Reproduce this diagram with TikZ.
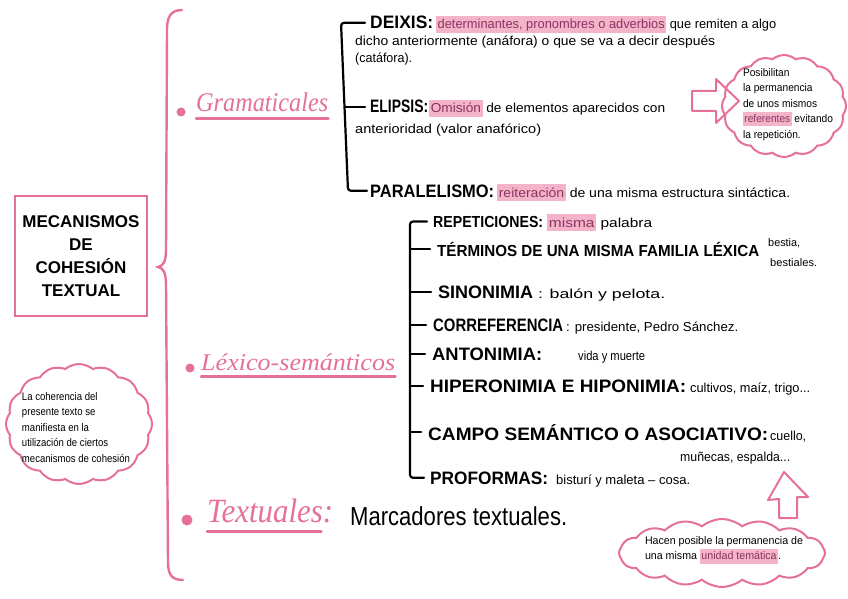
\documentclass[tikz,border=0pt]{standalone}
\usepackage{fontspec}
\setmainfont{Liberation Sans}
\newfontfamily\catfont{Liberation Serif}
\usepackage{graphicx}
\usetikzlibrary{shapes.symbols}
\definecolor{pk}{HTML}{E5719B}
\definecolor{hlpink}{HTML}{F3B3C9}
\definecolor{hltext}{HTML}{8A3560}
\newcommand{\fitw}[2]{\resizebox{#1pt}{\height}{#2}}
\newcommand{\hl}[1]{{\setlength{\fboxsep}{1.5pt}\colorbox{hlpink}{\vphantom{Ág}\textcolor{hltext}{#1}}}}
\tikzset{
  lab/.style={anchor=base west, inner sep=0pt, font=\fontsize{18}{20}\selectfont\bfseries},
  desc/.style={anchor=base west, inner sep=0pt, font=\fontsize{13}{15}\selectfont},
  smalltxt/.style={anchor=base west, inner sep=0pt, font=\fontsize{11}{12}\selectfont},
  br/.style={line width=2.2pt, black, rounded corners=3pt, line cap=round},
  pinkline/.style={draw=pk, line width=2.4pt, line cap=round},
  cat/.style={anchor=base west, inner sep=0pt, text=pk, font=\catfont\itshape},
  dot/.style={circle, fill=pk, inner sep=0pt, minimum size=9pt},
  cloudbox/.style={cloud, cloud puffs=16, cloud puff arc=80, cloud ignores aspect, draw=pk, line width=2pt, inner sep=0pt},
  cloudtxt/.style={align=left, inner sep=0pt, font=\fontsize{11}{15.5}\selectfont},
  titlebox/.style={draw=pk, line width=2.4pt, minimum width=132pt, minimum height=120pt, align=center, font=\fontsize{17}{23}\selectfont\bfseries}
}
\begin{document}
\begin{tikzpicture}[x=1pt,y=-1pt]
\useasboundingbox[fill=white] (0,0) rectangle (848,599);

% title box and main brace
\node[titlebox] (title) at (81,256) {MECANISMOS\\DE\\COHESIÓN\\TEXTUAL};
\draw[pinkline] (182,10) .. controls (170,10) and (167,18) .. (167,30) -- (166,250)
  .. controls (166,262) and (163,266) .. (158,267)
  .. controls (163,268) and (166,272) .. (166,285) -- (168,562)
  .. controls (168,575) and (172,580) .. (183,580);

% left cloud
\node[cloudbox, minimum width=146pt, minimum height=120pt] (cloudL) at (79,424) {};
\node[cloudtxt] (cloudLt) at (76,428) {\fitw{108}{\begin{tabular}{@{}l@{}}La coherencia del\\presente texto se\\manifiesta en la\\utilización de ciertos\\mecanismos de cohesión\end{tabular}}};

% categories
\node[dot] (b1) at (181,112) {};
\node[cat] (gram) at (196,112) {\fitw{132}{\fontsize{27}{28}\selectfont Gramaticales}};
\draw[pinkline] ([yshift=-6pt]gram.south west) -- ([yshift=-6pt]gram.south east);
\node[dot] (b2) at (190,368) {};
\node[cat] (lex) at (201,370) {\fitw{194}{\fontsize{24}{26}\selectfont Léxico-semánticos}};
\draw[pinkline] ([yshift=-6pt]lex.south west) -- ([yshift=-6pt]lex.south east);
\node[dot, minimum size=11pt] (b3) at (187,520) {};
\node[cat] (text) at (207,522) {\fitw{126}{\fontsize{34}{36}\selectfont Textuales:}};
\draw[pinkline] ([yshift=-9pt]text.south west) -- ([yshift=-9pt,xshift=-12pt]text.south east);
\node[anchor=base west, inner sep=0pt] (marc) at (350,525) {\fitw{217}{\fontsize{26}{28}\selectfont Marcadores textuales.}};

% gramaticales items
\node[lab] (deixis) at (370,29) {\fitw{63}{DEIXIS:}};
\node[desc] (deixis1) at (436,29) {\fitw{340}{\hl{determinantes, pronombres o adverbios} que remiten a algo}};
\node[desc] (deixis2) at (355,46) {\fitw{360}{dicho anteriormente (anáfora) o que se va a decir después}};
\node[desc] (deixis3) at (355,63) {\fitw{57}{(catáfora).}};
\node[lab] (elipsis) at (370,113) {\fitw{58}{ELIPSIS:}};
\node[desc] (elipsis1) at (429,113) {\fitw{236}{\hl{Omisión} de elementos aparecidos con}};
\node[desc] (elipsis2) at (355,134) {\fitw{186}{anterioridad (valor anafórico)}};
\node[lab] (paral) at (370,197) {\fitw{124}{PARALELISMO:}};
\node[desc] (paral1) at (497,197) {\fitw{293}{\hl{reiteración} de una misma estructura sintáctica.}};

\coordinate (gt) at (341,0);
\coordinate (gm) at (345,0);
\coordinate (gb) at (348,0);
\draw[br] ([xshift=-5pt]deixis.west) -- (deixis.west -| gt) -- (paral.west -| gb) -- ([xshift=-3pt]paral.west);
\draw[br] (elipsis.west -| gm) -- ([xshift=-5pt]elipsis.west);

% right cloud + arrow
\draw[pinkline, line width=2pt, line join=round] (692,91) -- (716,91) -- (716,79) -- (739,101) -- (716,123) -- (716,111) -- (692,111) -- cycle;
\node[cloudbox, minimum width=124pt, minimum height=102pt] (cloudR) at (784,106) {};
\node[cloudtxt] (cloudRt) at (788,104) {\fitw{90}{\begin{tabular}{@{}l@{}}Posibilitan\\la permanencia\\de unos mismos\\\hl{referentes} evitando\\la repetición.\end{tabular}}};

% lexico items
\node[lab, font=\fontsize{16}{18}\selectfont\bfseries] (rep) at (433,227) {\fitw{110}{REPETICIONES:}};
\node[desc] (rep1) at (547,227) {\fitw{105}{\hl{misma} palabra}};
\node[lab, font=\fontsize{16}{18}\selectfont\bfseries] (term) at (437,256) {\fitw{322}{TÉRMINOS DE UNA MISMA FAMILIA LÉXICA}};
\node[smalltxt] (term1) at (768,246) {\fitw{32}{bestia,}};
\node[smalltxt] (term2) at (770,266) {\fitw{47}{bestiales.}};
\node[lab] (sin) at (438,298) {\fitw{95}{SINONIMIA}};
\node[desc] (sin1) at (538,298) {\fitw{127}{: balón y pelota.}};
\node[lab] (coref) at (433,331) {\fitw{130}{CORREFERENCIA}};
\node[desc] (coref1) at (566,331) {\fitw{172}{: presidente, Pedro Sánchez.}};
\node[lab] (anto) at (432,360) {\fitw{110}{ANTONIMIA:}};
\node[desc] (anto1) at (578,360) {\fitw{67}{vida y muerte}};
\node[lab] (hiper) at (430,392) {\fitw{256}{HIPERONIMIA E HIPONIMIA:}};
\node[desc] (hiper1) at (690,392) {\fitw{120}{cultivos, maíz, trigo...}};
\node[lab] (campo) at (428,440) {\fitw{340}{CAMPO SEMÁNTICO O ASOCIATIVO:}};
\node[desc] (campo1) at (770,440) {\fitw{36}{cuello,}};
\node[desc] (campo2) at (680,461) {\fitw{110}{muñecas, espalda...}};
\node[lab] (prof) at (430,484) {\fitw{118}{PROFORMAS:}};
\node[desc] (prof1) at (556,484) {\fitw{134}{bisturí y maleta – cosa.}};

\coordinate (lx) at (410,0);
\draw[br] ([xshift=-6pt]rep.west) -- (rep.west -| lx) -- (prof.west -| lx) -- ([xshift=-6pt]prof.west);
\foreach \n in {term,sin,coref,anto,hiper,campo}
  \draw[br] (\n.west -| lx) -- ([xshift=-7pt]\n.west);

% bottom cloud + arrow
\draw[pinkline, line width=2pt, line join=round] (784,472) -- (808,497) -- (797,497) -- (797,518) -- (779,518) -- (779,499) -- (768,500) -- cycle;
\node[cloudbox, minimum width=206pt, minimum height=68pt] (cloudB) at (722,553) {};
\node[cloudtxt] (cloudBt) at (724,549) {\fitw{158}{\begin{tabular}{@{}l@{}}Hacen posible la permanencia de\\una misma \hl{unidad temática}.\end{tabular}}};
\end{tikzpicture}
\end{document}
